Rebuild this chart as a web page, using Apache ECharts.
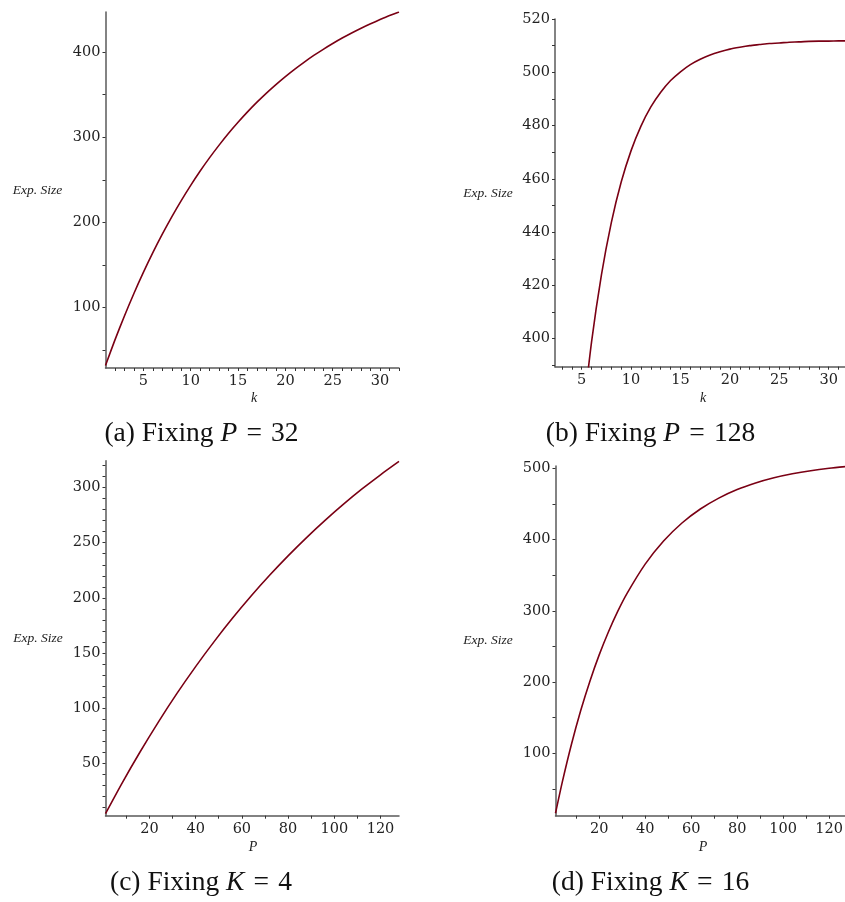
<!DOCTYPE html>
<html>
<head>
<meta charset="utf-8">
<script src="https://cdn.jsdelivr.net/npm/echarts@6/dist/echarts.min.js"></script>
<style>
html,body{margin:0;padding:0;background:#fff;}
#c{width:845px;height:902px;}
</style>
</head>
<body>
<div id="c"></div>
<script>
// (a) Fixing P = 32 : x = k
const kA = [1,2,3,4,5,6,7,8,9,10,11,12,13,14,15,16,17,18,19,20,21,22,23,24,25,26,27,28,29,30,31,32];
const sizeA = [32.0,62.0,90.1,116.5,141.2,164.4,186.1,206.5,225.6,243.5,260.3,276.0,290.7,304.6,317.5,329.7,341.1,351.8,361.8,371.2,380.0,388.2,396.0,403.2,410.0,416.4,422.4,428.0,433.2,438.1,442.8,447.1];
// (b) Fixing P = 128 : x = k
const kB = [5,6,7,8,9,10,11,12,13,14,15,16,17,18,19,20,21,22,23,24,25,26,27,28,29,30,31,32];
const sizeB = [366.5,398.8,424.0,443.6,458.8,470.6,479.8,487.0,492.5,496.9,500.2,502.9,504.9,506.5,507.7,508.7,509.4,510.0,510.4,510.8,511.0,511.3,511.4,511.6,511.7,511.7,511.8,511.8];
// (c) Fixing K = 4 : x = P
const pC = [1,8,16,24,32,40,48,56,64,72,80,88,96,104,112,120,128];
const sizeC = [4.0,31.1,60.2,87.6,113.4,137.5,160.2,181.6,201.6,220.4,238.1,254.7,270.3,285.0,298.8,311.7,323.8];
// (d) Fixing K = 16 : x = P
const pD = [1,4,8,12,16,20,24,28,32,40,48,56,64,72,80,88,96,104,112,120,128];
const sizeD = [15.8,60.2,113.3,160.3,201.6,238.1,270.3,298.8,323.8,365.5,397.9,423.2,442.8,458.1,470.1,479.3,486.6,492.2,496.6,500.0,502.7];

// tick labels and tick marks
const xLabA = [5,10,15,20,25,30];
const xTickA = [2,3,4,5,6,7,8,9,10,11,12,13,14,15,16,17,18,19,20,21,22,23,24,25,26,27,28,29,30,31,32];
const yLabA = [100,200,300,400];
const yTickA = [50,100,150,200,250,300,350,400];
const xLabB = [5,10,15,20,25,30];
const xTickB = [3,4,5,6,7,8,9,10,11,12,13,14,15,16,17,18,19,20,21,22,23,24,25,26,27,28,29,30,31];
const yLabB = [400,420,440,460,480,500,520];
const yTickB = [390,400,410,420,430,440,450,460,470,480,490,500,510,520];
const xLabC = [20,40,60,80,100,120];
const xTickC = [10,20,30,40,50,60,70,80,90,100,110,120];
const yLabC = [50,100,150,200,250,300];
const yTickC = [10,20,30,40,50,60,70,80,90,100,110,120,130,140,150,160,170,180,190,200,210,220,230,240,250,260,270,280,290,300,310,320];
const xLabD = [20,40,60,80,100,120];
const xTickD = [10,20,30,40,50,60,70,80,90,100,110,120];
const yLabD = [100,200,300,400,500];
const yTickD = [50,100,150,200,250,300,350,400,450,500];

const captions = [
  {pre:'(a) Fixing ', v:'P', post:'\u2004=\u200432', x:201.5, y:434},
  {pre:'(b) Fixing ', v:'P', post:'\u2004=\u2004128', x:650.5, y:434},
  {pre:'(c) Fixing ', v:'K', post:'\u2004=\u20044', x:201, y:883},
  {pre:'(d) Fixing ', v:'K', post:'\u2004=\u200416', x:650.5, y:883}
];

const FONT = 'DejaVu Serif';
const AXC = '#5a5a5a';
const LINEC = '#7a0014';

function xAx(idx, min, max, labs, ticks){
  return {
    type:'value', gridIndex:idx, min:min, max:max,
    axisLine:{show:true, onZero:false, lineStyle:{color:AXC, width:1.5}},
    axisTick:{show:true, inside:false, length:3, customValues:ticks, lineStyle:{color:'#333', width:1}},
    axisLabel:{show:true, customValues:labs, margin:6, fontFamily:FONT, fontSize:14.5, color:'#222'},
    splitLine:{show:false}
  };
}
function yAx(idx, min, max, labs, ticks){
  return {
    type:'value', gridIndex:idx, min:min, max:max,
    axisLine:{show:true, onZero:false, lineStyle:{color:AXC, width:1.5}},
    axisTick:{show:true, inside:false, length:3, customValues:ticks, lineStyle:{color:'#333', width:1}},
    axisLabel:{show:true, customValues:labs, margin:5, fontFamily:FONT, fontSize:14.5, color:'#222'},
    splitLine:{show:false}
  };
}
function ser(idx, xs, ys){
  return {
    type:'line', xAxisIndex:idx, yAxisIndex:idx,
    data: xs.map((x,i)=>[x, ys[i]]),
    showSymbol:false, symbol:'none', smooth:0.25, clip:true,
    lineStyle:{color:LINEC, width:1.6}, silent:true, animation:false
  };
}

const graphics = [];
function txt(x,y,text,font,align){
  graphics.push({type:'text', x:x, y:y, silent:true,
    style:{text:text, font:font, fill:'#222', textAlign:align||'center', textVerticalAlign:'middle'}});
}
txt(37.5,190,'Exp. Size','italic 13.5px "Liberation Serif"');
txt(488,193,'Exp. Size','italic 13.5px "Liberation Serif"');
txt(38,638,'Exp. Size','italic 13.5px "Liberation Serif"');
txt(488,640,'Exp. Size','italic 13.5px "Liberation Serif"');
txt(254,398,'k','italic 14px "Liberation Serif"');
txt(703,398,'k','italic 14px "Liberation Serif"');
txt(253,847,'P','italic 14px "Liberation Serif"');
txt(703,847,'P','italic 14px "Liberation Serif"');
captions.forEach(c=>{
  graphics.push({type:'text', x:c.x, y:c.y, silent:true,
    style:{
      text:'{n|'+c.pre+'}{i|'+c.v+'}{n|'+c.post+'}',
      textAlign:'center', textVerticalAlign:'middle',
      rich:{
        n:{fontFamily:'Liberation Serif', fontSize:27.5, fill:'#111'},
        i:{fontFamily:'Liberation Serif', fontStyle:'italic', fontSize:27.5, fill:'#111'}
      }
    }});
});

const chart = echarts.init(document.getElementById('c'), null, {renderer:'canvas'});
chart.setOption({
  animation:false,
  backgroundColor:'#fff',
  grid:[
    {left:105.5, right:446, top:12, bottom:534, outerBoundsMode:'none', containLabel:false},
    {left:555, right:0, top:19, bottom:535.3, outerBoundsMode:'none', containLabel:false},
    {left:105.5, right:446, top:460.7, bottom:86.3, outerBoundsMode:'none', containLabel:false},
    {left:555.5, right:0, top:466, bottom:86.3, outerBoundsMode:'none', containLabel:false}
  ],
  xAxis:[
    xAx(0, 1, 32, xLabA, xTickA),
    xAx(1, 2.3, 31.65, xLabB, xTickB),
    xAx(2, 1, 128, xLabC, xTickC),
    xAx(3, 1, 126.9, xLabD, xTickD)
  ],
  yAxis:[
    yAx(0, 29, 447, yLabA, yTickA),
    yAx(1, 389.5, 520, yLabB, yTickB),
    yAx(2, 2.1, 324.5, yLabC, yTickC),
    yAx(3, 12.4, 503.2, yLabD, yTickD)
  ],
  series:[
    ser(0, kA, sizeA),
    ser(1, kB, sizeB),
    ser(2, pC, sizeC),
    ser(3, pD, sizeD)
  ],
  graphic: graphics
});
</script>
</body>
</html>
